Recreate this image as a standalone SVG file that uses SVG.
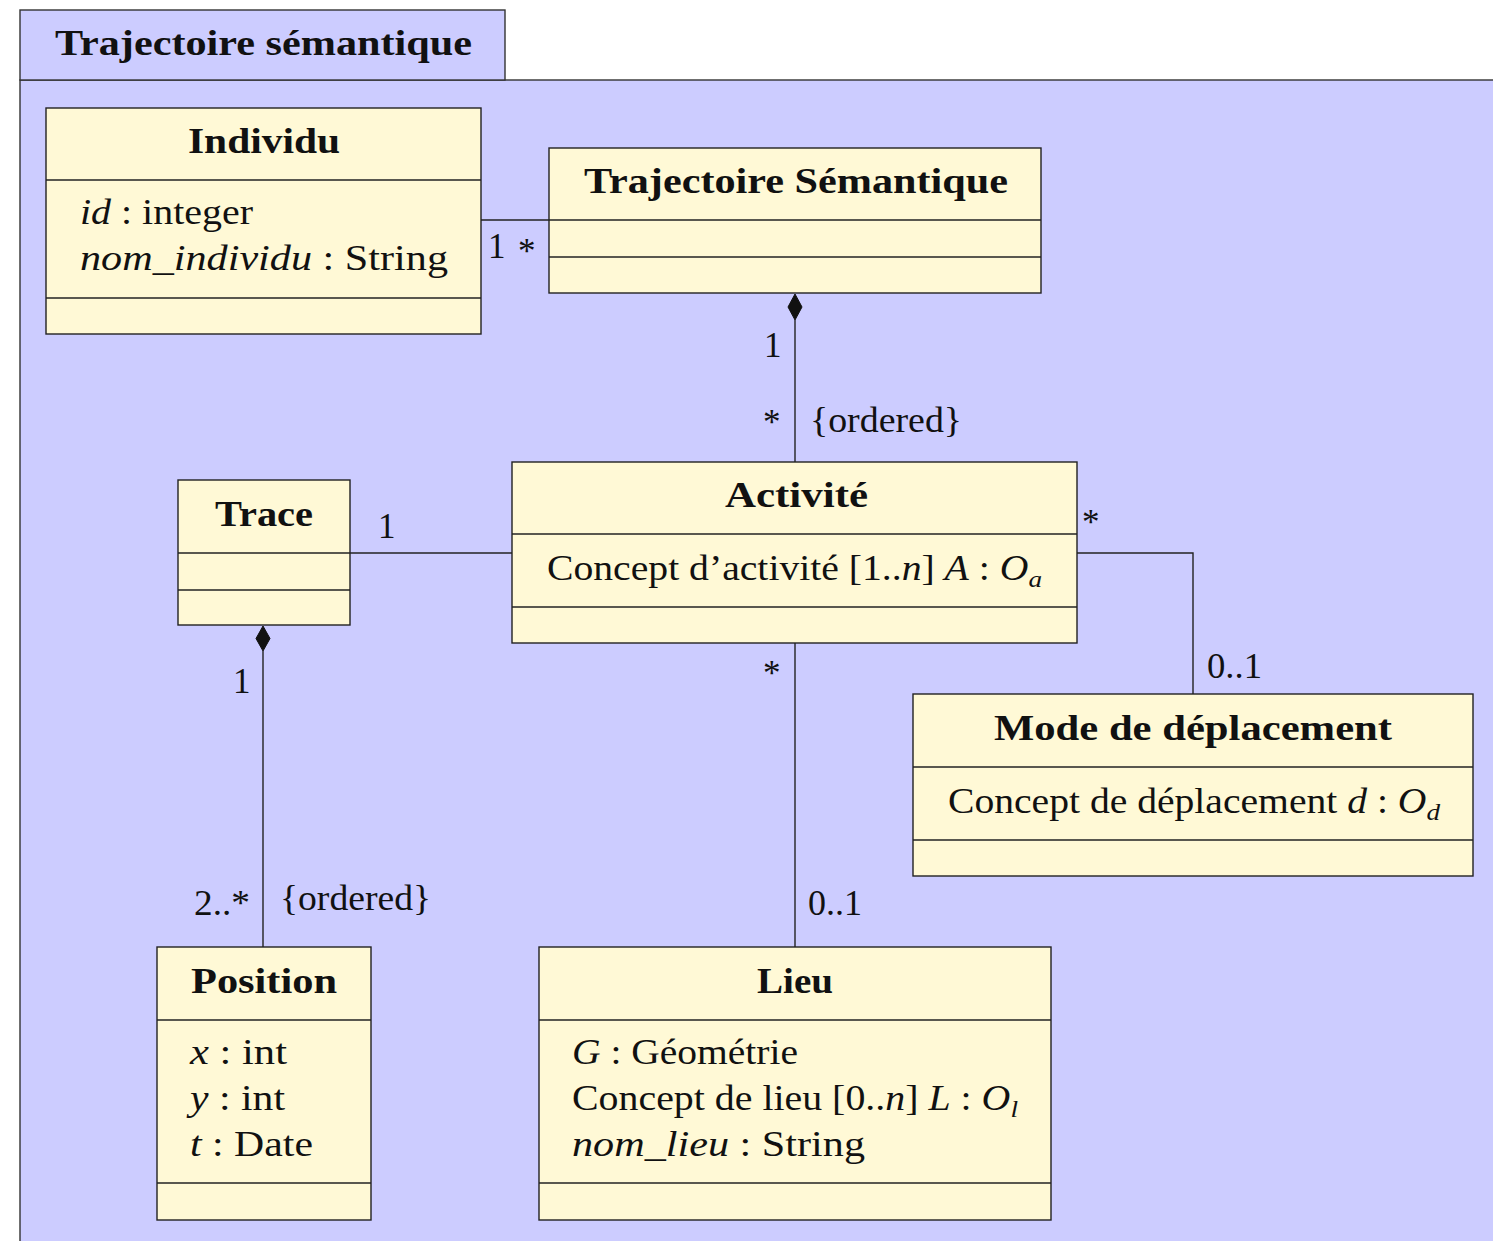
<svg xmlns="http://www.w3.org/2000/svg" width="1493" height="1241" viewBox="0 0 1493 1241">
<style>
.pkg{fill:#ccccff;stroke:#333;stroke-width:1.4}
.cls{fill:#fff9d6;stroke:#222;stroke-width:1.4}
.ln{stroke:#222;stroke-width:1.4;fill:none}
.dia{fill:#111;stroke:#111;stroke-width:1}
text{font-family:"Liberation Serif","Times New Roman",Tinos,serif;font-size:35px;fill:#111}
.b{font-weight:bold}
.i{font-style:italic}
.sub{font-size:24px;font-style:italic}
</style>
<rect width="1493" height="1241" fill="#ffffff"/>
<g id="package">
<rect class="pkg" x="20" y="80" width="1490" height="1180"/>
<rect class="pkg" x="20" y="10" width="485" height="70"/>
<text class="b" x="55" y="55" textLength="417" lengthAdjust="spacingAndGlyphs">Trajectoire sémantique</text>
</g>
<g id="connectors">
<line class="ln" x1="481" y1="220" x2="549" y2="220"/>
<line class="ln" x1="795" y1="320" x2="795" y2="462"/>
<polygon class="dia" points="795,294 802,307 795,320 788,307"/>
<line class="ln" x1="350" y1="553" x2="512" y2="553"/>
<polyline class="ln" points="1077,553 1193,553 1193,694"/>
<line class="ln" x1="795" y1="643" x2="795" y2="947"/>
<line class="ln" x1="263" y1="651" x2="263" y2="947"/>
<polygon class="dia" points="263,626 270,638.5 263,651 256,638.5"/>
<text x="488" y="258">1</text>
<text x="518" y="263">*</text>
<text x="764" y="357">1</text>
<text x="763" y="434">*</text>
<text x="810" y="432" textLength="152" lengthAdjust="spacingAndGlyphs">{ordered}</text>
<text x="378" y="538">1</text>
<text x="1082" y="534">*</text>
<text x="1207" y="678" textLength="55" lengthAdjust="spacingAndGlyphs">0..1</text>
<text x="763" y="685">*</text>
<text x="808" y="915" textLength="54" lengthAdjust="spacingAndGlyphs">0..1</text>
<text x="233" y="693">1</text>
<text x="194" y="915" textLength="56" lengthAdjust="spacingAndGlyphs">2..*</text>
<text x="280" y="910" textLength="151" lengthAdjust="spacingAndGlyphs">{ordered}</text>
</g>
<g id="individu">
<rect class="cls" x="46" y="108" width="435" height="226"/>
<line class="ln" x1="46" y1="180" x2="481" y2="180"/>
<line class="ln" x1="46" y1="298" x2="481" y2="298"/>
<text class="b" x="188" y="153" textLength="152" lengthAdjust="spacingAndGlyphs">Individu</text>
<text x="80" y="224" textLength="173" lengthAdjust="spacingAndGlyphs"><tspan class="i">id</tspan> : integer</text>
<text x="80" y="270" textLength="368" lengthAdjust="spacingAndGlyphs"><tspan class="i">nom_individu</tspan> : String</text>
</g>
<g id="trajectoire">
<rect class="cls" x="549" y="148" width="492" height="145"/>
<line class="ln" x1="549" y1="220" x2="1041" y2="220"/>
<line class="ln" x1="549" y1="257" x2="1041" y2="257"/>
<text class="b" x="584" y="193" textLength="424" lengthAdjust="spacingAndGlyphs">Trajectoire Sémantique</text>
</g>
<g id="activite">
<rect class="cls" x="512" y="462" width="565" height="181"/>
<line class="ln" x1="512" y1="534" x2="1077" y2="534"/>
<line class="ln" x1="512" y1="607" x2="1077" y2="607"/>
<text class="b" x="725" y="507" textLength="143" lengthAdjust="spacingAndGlyphs">Activité</text>
<text x="547" y="580" textLength="495" lengthAdjust="spacingAndGlyphs">Concept d’activité [1..<tspan class="i">n</tspan>] <tspan class="i">A</tspan> : <tspan class="i">O</tspan><tspan class="sub" dy="7">a</tspan></text>
</g>
<g id="trace">
<rect class="cls" x="178" y="480" width="172" height="145"/>
<line class="ln" x1="178" y1="553" x2="350" y2="553"/>
<line class="ln" x1="178" y1="590" x2="350" y2="590"/>
<text class="b" x="215" y="526" textLength="98" lengthAdjust="spacingAndGlyphs">Trace</text>
</g>
<g id="mode">
<rect class="cls" x="913" y="694" width="560" height="182"/>
<line class="ln" x1="913" y1="767" x2="1473" y2="767"/>
<line class="ln" x1="913" y1="840" x2="1473" y2="840"/>
<text class="b" x="994" y="740" textLength="398" lengthAdjust="spacingAndGlyphs">Mode de déplacement</text>
<text x="948" y="813" textLength="492" lengthAdjust="spacingAndGlyphs">Concept de déplacement <tspan class="i">d</tspan> : <tspan class="i">O</tspan><tspan class="sub" dy="7">d</tspan></text>
</g>
<g id="position">
<rect class="cls" x="157" y="947" width="214" height="273"/>
<line class="ln" x1="157" y1="1020" x2="371" y2="1020"/>
<line class="ln" x1="157" y1="1183" x2="371" y2="1183"/>
<text class="b" x="191" y="993" textLength="146" lengthAdjust="spacingAndGlyphs">Position</text>
<text x="190" y="1064" textLength="97" lengthAdjust="spacingAndGlyphs"><tspan class="i">x</tspan> : int</text>
<text x="190" y="1110" textLength="95" lengthAdjust="spacingAndGlyphs"><tspan class="i">y</tspan> : int</text>
<text x="190" y="1156" textLength="123" lengthAdjust="spacingAndGlyphs"><tspan class="i">t</tspan> : Date</text>
</g>
<g id="lieu">
<rect class="cls" x="539" y="947" width="512" height="273"/>
<line class="ln" x1="539" y1="1020" x2="1051" y2="1020"/>
<line class="ln" x1="539" y1="1183" x2="1051" y2="1183"/>
<text class="b" x="757" y="993" textLength="76" lengthAdjust="spacingAndGlyphs">Lieu</text>
<text x="572" y="1064" textLength="226" lengthAdjust="spacingAndGlyphs"><tspan class="i">G</tspan> : Géométrie</text>
<text x="572" y="1110" textLength="446" lengthAdjust="spacingAndGlyphs">Concept de lieu [0..<tspan class="i">n</tspan>] <tspan class="i">L</tspan> : <tspan class="i">O</tspan><tspan class="sub" dy="7">l</tspan></text>
<text x="572" y="1156" textLength="293" lengthAdjust="spacingAndGlyphs"><tspan class="i">nom_lieu</tspan> : String</text>
</g>
</svg>
